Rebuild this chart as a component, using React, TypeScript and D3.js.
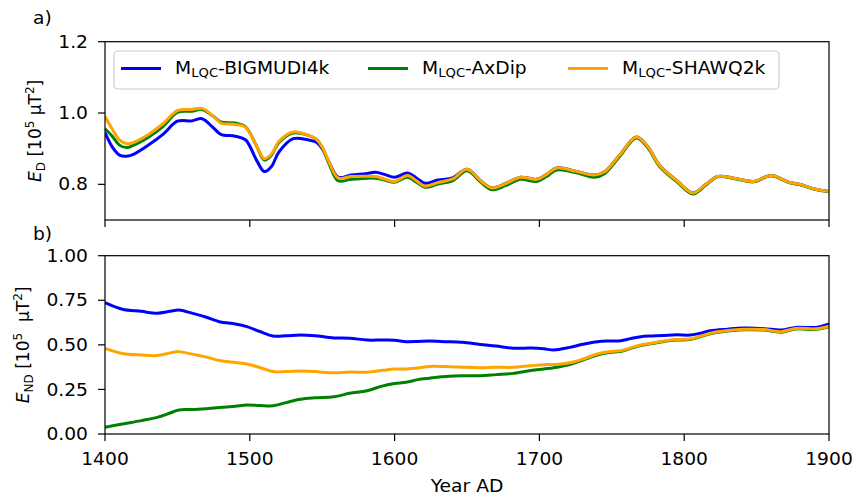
import * as d3 from 'd3'

const FONT = '"DejaVu Sans", sans-serif'

// panel a) E_D
const yearsTop = [1400, 1405, 1410, 1415, 1420, 1430, 1440, 1450, 1460, 1467, 1475, 1480, 1490, 1497, 1505, 1510, 1515, 1520, 1530, 1540, 1546, 1550, 1555, 1561, 1570, 1580, 1587, 1593, 1600, 1609, 1615, 1621, 1630, 1640, 1650, 1660, 1667, 1677, 1687, 1698, 1705, 1712, 1725, 1738, 1745, 1755, 1767, 1775, 1783, 1795, 1806, 1815, 1823, 1836, 1848, 1860, 1873, 1880, 1890, 1900]
const edBigmudi = [0.945, 0.905, 0.882, 0.879, 0.885, 0.91, 0.94, 0.977, 0.978, 0.984, 0.958, 0.94, 0.935, 0.925, 0.865, 0.836, 0.85, 0.89, 0.928, 0.925, 0.918, 0.9, 0.86, 0.82, 0.826, 0.83, 0.834, 0.828, 0.82, 0.832, 0.818, 0.803, 0.812, 0.818, 0.842, 0.808, 0.79, 0.803, 0.82, 0.814, 0.828, 0.846, 0.837, 0.826, 0.835, 0.88, 0.933, 0.905, 0.853, 0.81, 0.776, 0.8, 0.822, 0.816, 0.808, 0.825, 0.805, 0.8, 0.787, 0.78]
const edAxDip = [0.956, 0.935, 0.91, 0.903, 0.91, 0.932, 0.962, 1.002, 1.005, 1.01, 0.99, 0.975, 0.972, 0.962, 0.905, 0.868, 0.882, 0.917, 0.944, 0.938, 0.926, 0.903, 0.855, 0.81, 0.814, 0.817, 0.817, 0.812, 0.806, 0.82, 0.806, 0.792, 0.801, 0.81, 0.838, 0.804, 0.785, 0.797, 0.814, 0.808, 0.822, 0.84, 0.833, 0.82, 0.83, 0.876, 0.93, 0.902, 0.85, 0.807, 0.773, 0.798, 0.821, 0.815, 0.807, 0.824, 0.804, 0.799, 0.786, 0.779]
const edShawq = [0.99, 0.955, 0.925, 0.914, 0.918, 0.94, 0.97, 1.007, 1.01, 1.013, 0.99, 0.972, 0.968, 0.96, 0.905, 0.872, 0.885, 0.92, 0.947, 0.938, 0.926, 0.905, 0.86, 0.818, 0.822, 0.823, 0.822, 0.815, 0.808, 0.825, 0.81, 0.795, 0.805, 0.815, 0.842, 0.808, 0.79, 0.803, 0.82, 0.814, 0.828, 0.846, 0.837, 0.826, 0.835, 0.88, 0.933, 0.905, 0.853, 0.81, 0.776, 0.8, 0.822, 0.816, 0.808, 0.825, 0.805, 0.8, 0.787, 0.78]

// panel b) E_ND
const yearsBot = [1400, 1412, 1425, 1436, 1445, 1451, 1460, 1470, 1479, 1490, 1498, 1507, 1516, 1525, 1535, 1545, 1558, 1569, 1581, 1592, 1600, 1608, 1616, 1624, 1635, 1647, 1659, 1670, 1682, 1694, 1703, 1710, 1721, 1730, 1740, 1748, 1756, 1763, 1770, 1778, 1786, 1795, 1804, 1811, 1818, 1830, 1841, 1855, 1867, 1877, 1891, 1900]
const endBigmudi = [0.737, 0.7, 0.688, 0.677, 0.688, 0.695, 0.678, 0.655, 0.63, 0.617, 0.602, 0.575, 0.55, 0.551, 0.555, 0.551, 0.539, 0.537, 0.527, 0.527, 0.526, 0.518, 0.519, 0.521, 0.518, 0.514, 0.502, 0.493, 0.481, 0.482, 0.478, 0.471, 0.486, 0.503, 0.518, 0.522, 0.523, 0.535, 0.546, 0.55, 0.553, 0.556, 0.555, 0.565, 0.579, 0.588, 0.594, 0.591, 0.583, 0.598, 0.598, 0.617]
const endAxDip = [0.038, 0.056, 0.075, 0.093, 0.118, 0.135, 0.137, 0.142, 0.148, 0.156, 0.163, 0.16, 0.158, 0.176, 0.195, 0.203, 0.209, 0.228, 0.243, 0.27, 0.283, 0.29, 0.305, 0.313, 0.322, 0.327, 0.327, 0.333, 0.34, 0.356, 0.365, 0.372, 0.39, 0.415, 0.443, 0.457, 0.463, 0.48, 0.496, 0.507, 0.519, 0.527, 0.53, 0.545, 0.562, 0.577, 0.584, 0.583, 0.571, 0.589, 0.587, 0.602]
const endShawq = [0.48, 0.452, 0.443, 0.44, 0.455, 0.462, 0.448, 0.432, 0.412, 0.401, 0.393, 0.373, 0.35, 0.35, 0.353, 0.35, 0.343, 0.348, 0.346, 0.357, 0.364, 0.365, 0.37, 0.379, 0.378, 0.375, 0.372, 0.374, 0.374, 0.383, 0.389, 0.39, 0.4, 0.42, 0.449, 0.461, 0.467, 0.483, 0.499, 0.51, 0.522, 0.53, 0.533, 0.548, 0.565, 0.58, 0.587, 0.586, 0.574, 0.592, 0.59, 0.605]

const seriesNames = ['BIGMUDI4k', 'AxDip', 'SHAWQ2k']
const colors = ['#0000ff', '#008000', '#ffa500']
const topTicks = [0.8, 1.0, 1.2]
const botTicks = [0, 0.25, 0.5, 0.75, 1.0]
const xTicks = [1400, 1500, 1600, 1700, 1800, 1900]

const x = d3.scaleLinear().domain([1400, 1900]).range([105, 829])
const yTop = d3.scaleLinear().domain([0.7, 1.2]).range([220, 41.7])
const yBot = d3.scaleLinear().domain([0, 1]).range([434, 255.7])

// the source figure is slightly stretched horizontally
const SX = 1.1

const mkLine = (years: number[], y: d3.ScaleLinear<number, number>) =>
  d3.line<number>()
    .x((_, i) => x(years[i]))
    .y(v => y(v))
    .curve(d3.curveCatmullRom.alpha(0.5))

const T = ({ x, y, anchor = 'start', dy, size = 17, children }: any) => (
  <g transform={`translate(${x},${y}) scale(${SX},1)`}>
    <text x={0} y={0} dy={dy} textAnchor={anchor} fontSize={size}>{children}</text>
  </g>
)

const Panel = ({ id, y, years, data, ticks, fmt }: any) => {
  const [y0, y1] = y.range()
  const line = mkLine(years, y)
  return (
    <g>
      <clipPath id={id}>
        <rect x={105} y={y1} width={724} height={y0 - y1} />
      </clipPath>
      <g clipPath={`url(#${id})`}>
        {data.map((d: number[], i: number) => (
          <path key={i} d={line(d) || ''} fill="none" stroke={colors[i]} strokeWidth={3} strokeLinejoin="round" />
        ))}
      </g>
      <rect x={105} y={y1} width={724} height={y0 - y1} fill="none" stroke="#000" strokeWidth={1.2} />
      {ticks.map((t: number) => (
        <g key={t}>
          <line x1={98} x2={105} y1={y(t)} y2={y(t)} stroke="#000" strokeWidth={1.2} />
          <T x={88} y={y(t)} dy="0.36em" anchor="end">{fmt(t)}</T>
        </g>
      ))}
      {xTicks.map(t => (
        <line key={t} x1={x(t)} x2={x(t)} y1={y0} y2={y0 + 7} stroke="#000" strokeWidth={1.2} />
      ))}
    </g>
  )
}

export default function App() {
  const legendX = [121, 368, 568]
  return (
    <svg width={860} height={497} style={{ position: 'absolute', left: 0, top: 0, background: '#fff' }} fontFamily={FONT}>
      <rect width={860} height={497} fill="#fff" />
      <Panel id="clipA" y={yTop} years={yearsTop} data={[edBigmudi, edAxDip, edShawq]} ticks={topTicks} fmt={d3.format('.1f')} />
      <Panel id="clipB" y={yBot} years={yearsBot} data={[endBigmudi, endAxDip, endShawq]} ticks={botTicks} fmt={d3.format('.2f')} />

      {xTicks.map(t => (
        <T key={t} x={x(t)} y={465} anchor="middle">{t}</T>
      ))}
      <T x={467} y={492} anchor="middle">Year AD</T>

      <T x={33} y={24}>a)</T>
      <T x={33} y={240}>b)</T>

      <text transform={`translate(41,${(220 + 41.7) / 2}) rotate(-90)`} textAnchor="middle" fontSize={17}>
        <tspan fontStyle="italic">E</tspan>
        <tspan fontSize={12} dy={4}>D</tspan>
        <tspan dy={-4}> [10</tspan>
        <tspan fontSize={12} dy={-7}>5</tspan>
        <tspan dy={7}> μT</tspan>
        <tspan fontSize={12} dy={-7}>2</tspan>
        <tspan dy={7}>]</tspan>
      </text>
      <text transform={`translate(29,${(434 + 255.7) / 2}) rotate(-90)`} textAnchor="middle" fontSize={17} xmlSpace="preserve">
        <tspan fontStyle="italic">E</tspan>
        <tspan fontSize={12} dy={4}>ND</tspan>
        <tspan dy={-4}> [10</tspan>
        <tspan fontSize={12} dy={-7}>5</tspan>
        <tspan dy={7}>{'  μT'}</tspan>
        <tspan fontSize={12} dy={-7}>2</tspan>
        <tspan dy={7}>]</tspan>
      </text>

      <rect x={114} y={51} width={665} height={38} rx={4} fill="#fff" fillOpacity={0.8} stroke="#cccccc" strokeWidth={1.2} />
      {seriesNames.map((n, i) => (
        <g key={n}>
          <line x1={legendX[i]} x2={legendX[i] + 40} y1={68.5} y2={68.5} stroke={colors[i]} strokeWidth={3} />
          <T x={legendX[i] + 54} y={74}>
            M<tspan fontSize={12} dy={3}>LQC</tspan><tspan dy={-3}>-{n}</tspan>
          </T>
        </g>
      ))}
    </svg>
  )
}
